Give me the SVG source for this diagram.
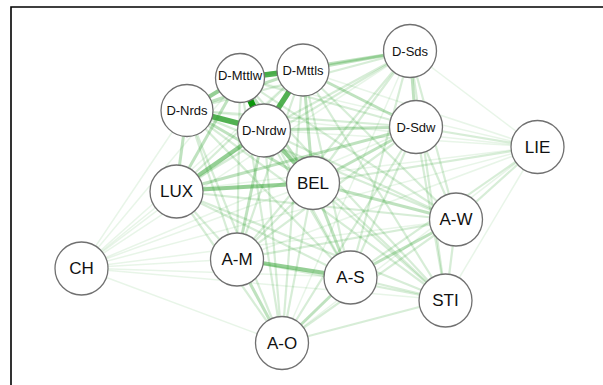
<svg xmlns="http://www.w3.org/2000/svg" width="603" height="385" viewBox="0 0 603 385">
<style>
.e{fill:none;stroke-linecap:butt}
.w0{stroke:#2ca02c;stroke-opacity:0.11;stroke-width:1.5}
.w1{stroke:#2ca02c;stroke-opacity:0.19;stroke-width:2.2}
.w2{stroke:#2ca02c;stroke-opacity:0.3;stroke-width:3}
.w3{stroke:#2ca02c;stroke-opacity:0.5;stroke-width:4}
.w4{stroke:#2ca02c;stroke-opacity:0.82;stroke-width:5.5}
.w5{stroke:#0a960a;stroke-opacity:1;stroke-width:6.5}
.n circle{fill:#fff;stroke:#707070;stroke-width:1.3}
.n text{font-family:"Liberation Sans",Arial,sans-serif;fill:#111;text-anchor:middle;dominant-baseline:central}
.s text{font-size:13px}
.b text{font-size:17px}
</style>
<rect width="603" height="385" fill="#fff"/>
<path d="M11,390 V7 H605" fill="none" stroke="#000" stroke-width="1.6"/>
<g id="connectors" class="e">
<line class="w0" x1="240" y1="78" x2="537" y2="147"/>
<line class="w0" x1="240" y1="78" x2="81" y2="268"/>
<line class="w0" x1="303" y1="70" x2="537" y2="147"/>
<line class="w0" x1="303" y1="70" x2="81" y2="268"/>
<line class="w0" x1="187" y1="110" x2="537" y2="147"/>
<line class="w0" x1="187" y1="110" x2="81" y2="268"/>
<line class="w0" x1="264" y1="130" x2="537" y2="147"/>
<line class="w0" x1="264" y1="130" x2="81" y2="268"/>
<line class="w0" x1="410" y1="51" x2="537" y2="147"/>
<line class="w0" x1="410" y1="51" x2="81" y2="268"/>
<line class="w0" x1="410" y1="51" x2="282" y2="343"/>
<line class="w0" x1="416" y1="127" x2="81" y2="268"/>
<line class="w0" x1="537" y1="147" x2="176" y2="191"/>
<line class="w0" x1="537" y1="147" x2="81" y2="268"/>
<line class="w0" x1="537" y1="147" x2="237" y2="259"/>
<line class="w0" x1="537" y1="147" x2="446" y2="300"/>
<line class="w0" x1="537" y1="147" x2="282" y2="343"/>
<line class="w0" x1="176" y1="191" x2="81" y2="268"/>
<line class="w0" x1="313" y1="183" x2="81" y2="268"/>
<line class="w0" x1="456" y1="220" x2="81" y2="268"/>
<line class="w0" x1="81" y1="268" x2="237" y2="259"/>
<line class="w0" x1="81" y1="268" x2="350" y2="277"/>
<line class="w0" x1="81" y1="268" x2="446" y2="300"/>
<line class="w0" x1="81" y1="268" x2="282" y2="343"/>
<line class="w1" x1="240" y1="78" x2="416" y2="127"/>
<line class="w1" x1="240" y1="78" x2="456" y2="220"/>
<line class="w1" x1="240" y1="78" x2="237" y2="259"/>
<line class="w1" x1="240" y1="78" x2="350" y2="277"/>
<line class="w1" x1="240" y1="78" x2="446" y2="300"/>
<line class="w1" x1="240" y1="78" x2="282" y2="343"/>
<line class="w1" x1="303" y1="70" x2="176" y2="191"/>
<line class="w1" x1="303" y1="70" x2="456" y2="220"/>
<line class="w1" x1="303" y1="70" x2="237" y2="259"/>
<line class="w1" x1="303" y1="70" x2="350" y2="277"/>
<line class="w1" x1="303" y1="70" x2="446" y2="300"/>
<line class="w1" x1="303" y1="70" x2="282" y2="343"/>
<line class="w1" x1="187" y1="110" x2="410" y2="51"/>
<line class="w1" x1="187" y1="110" x2="416" y2="127"/>
<line class="w1" x1="187" y1="110" x2="456" y2="220"/>
<line class="w1" x1="187" y1="110" x2="237" y2="259"/>
<line class="w1" x1="187" y1="110" x2="350" y2="277"/>
<line class="w1" x1="187" y1="110" x2="446" y2="300"/>
<line class="w1" x1="187" y1="110" x2="282" y2="343"/>
<line class="w1" x1="264" y1="130" x2="410" y2="51"/>
<line class="w1" x1="264" y1="130" x2="456" y2="220"/>
<line class="w1" x1="264" y1="130" x2="350" y2="277"/>
<line class="w1" x1="264" y1="130" x2="446" y2="300"/>
<line class="w1" x1="264" y1="130" x2="282" y2="343"/>
<line class="w1" x1="410" y1="51" x2="176" y2="191"/>
<line class="w1" x1="410" y1="51" x2="313" y2="183"/>
<line class="w1" x1="410" y1="51" x2="456" y2="220"/>
<line class="w1" x1="410" y1="51" x2="237" y2="259"/>
<line class="w1" x1="410" y1="51" x2="350" y2="277"/>
<line class="w1" x1="410" y1="51" x2="446" y2="300"/>
<line class="w1" x1="416" y1="127" x2="537" y2="147"/>
<line class="w1" x1="416" y1="127" x2="456" y2="220"/>
<line class="w1" x1="416" y1="127" x2="237" y2="259"/>
<line class="w1" x1="416" y1="127" x2="350" y2="277"/>
<line class="w1" x1="416" y1="127" x2="446" y2="300"/>
<line class="w1" x1="416" y1="127" x2="282" y2="343"/>
<line class="w1" x1="537" y1="147" x2="313" y2="183"/>
<line class="w1" x1="537" y1="147" x2="456" y2="220"/>
<line class="w1" x1="537" y1="147" x2="350" y2="277"/>
<line class="w1" x1="176" y1="191" x2="456" y2="220"/>
<line class="w1" x1="176" y1="191" x2="237" y2="259"/>
<line class="w1" x1="176" y1="191" x2="350" y2="277"/>
<line class="w1" x1="176" y1="191" x2="446" y2="300"/>
<line class="w1" x1="176" y1="191" x2="282" y2="343"/>
<line class="w1" x1="313" y1="183" x2="237" y2="259"/>
<line class="w1" x1="313" y1="183" x2="446" y2="300"/>
<line class="w1" x1="313" y1="183" x2="282" y2="343"/>
<line class="w1" x1="456" y1="220" x2="237" y2="259"/>
<line class="w1" x1="456" y1="220" x2="446" y2="300"/>
<line class="w1" x1="456" y1="220" x2="282" y2="343"/>
<line class="w1" x1="237" y1="259" x2="446" y2="300"/>
<line class="w1" x1="350" y1="277" x2="446" y2="300"/>
<line class="w1" x1="446" y1="300" x2="282" y2="343"/>
<line class="w2" x1="240" y1="78" x2="410" y2="51"/>
<line class="w2" x1="240" y1="78" x2="176" y2="191"/>
<line class="w2" x1="240" y1="78" x2="313" y2="183"/>
<line class="w2" x1="303" y1="70" x2="187" y2="110"/>
<line class="w2" x1="303" y1="70" x2="410" y2="51"/>
<line class="w2" x1="303" y1="70" x2="416" y2="127"/>
<line class="w2" x1="303" y1="70" x2="313" y2="183"/>
<line class="w2" x1="187" y1="110" x2="176" y2="191"/>
<line class="w2" x1="187" y1="110" x2="313" y2="183"/>
<line class="w2" x1="264" y1="130" x2="416" y2="127"/>
<line class="w2" x1="264" y1="130" x2="237" y2="259"/>
<line class="w2" x1="410" y1="51" x2="416" y2="127"/>
<line class="w2" x1="416" y1="127" x2="176" y2="191"/>
<line class="w2" x1="416" y1="127" x2="313" y2="183"/>
<line class="w2" x1="313" y1="183" x2="456" y2="220"/>
<line class="w2" x1="313" y1="183" x2="350" y2="277"/>
<line class="w2" x1="456" y1="220" x2="350" y2="277"/>
<line class="w2" x1="237" y1="259" x2="282" y2="343"/>
<line class="w2" x1="350" y1="277" x2="282" y2="343"/>
<line class="w3" x1="240" y1="78" x2="187" y2="110"/>
<line class="w3" x1="264" y1="130" x2="176" y2="191"/>
<line class="w3" x1="264" y1="130" x2="313" y2="183"/>
<line class="w3" x1="176" y1="191" x2="313" y2="183"/>
<line class="w3" x1="237" y1="259" x2="350" y2="277"/>
<line class="w4" x1="240" y1="78" x2="303" y2="70"/>
<line class="w4" x1="187" y1="110" x2="264" y2="130"/>
<line class="w4" x1="303" y1="70" x2="264" y2="130"/>
<line class="w5" x1="240" y1="78" x2="264" y2="130"/>
</g>
<g id="D-Mttlw" class="n s"><circle cx="240" cy="78" r="24.5"/><text x="240" y="75">D-Mttlw</text></g>
<g id="D-Mttls" class="n s"><circle cx="303" cy="70" r="26"/><text x="303" y="70">D-Mttls</text></g>
<g id="D-Nrds" class="n s"><circle cx="187" cy="110.5" r="26"/><text x="187" y="110.5">D-Nrds</text></g>
<g id="D-Nrdw" class="n s"><circle cx="264" cy="130.5" r="26.5"/><text x="264" y="130.5">D-Nrdw</text></g>
<g id="D-Sds" class="n s"><circle cx="410" cy="51" r="26.5"/><text x="410" y="51">D-Sds</text></g>
<g id="D-Sdw" class="n s"><circle cx="416" cy="127" r="26.5"/><text x="416" y="127">D-Sdw</text></g>
<g id="LIE" class="n b"><circle cx="537.5" cy="147" r="26.5"/><text x="537.5" y="147">LIE</text></g>
<g id="LUX" class="n b"><circle cx="176.5" cy="191.5" r="26.5"/><text x="176.5" y="191.5">LUX</text></g>
<g id="BEL" class="n b"><circle cx="313" cy="183" r="26.5"/><text x="313" y="183">BEL</text></g>
<g id="A-W" class="n b"><circle cx="456" cy="219.5" r="26.5"/><text x="456" y="219.5">A-W</text></g>
<g id="CH" class="n b"><circle cx="81.5" cy="268.5" r="26.5"/><text x="81.5" y="268.5">CH</text></g>
<g id="A-M" class="n b"><circle cx="237" cy="259.5" r="26.5"/><text x="237" y="259.5">A-M</text></g>
<g id="A-S" class="n b"><circle cx="350.5" cy="277.5" r="26.5"/><text x="350.5" y="277.5">A-S</text></g>
<g id="STI" class="n b"><circle cx="445.5" cy="300.5" r="26.5"/><text x="445.5" y="300.5">STI</text></g>
<g id="A-O" class="n b"><circle cx="282" cy="343" r="26.5"/><text x="282" y="343">A-O</text></g>
</svg>
